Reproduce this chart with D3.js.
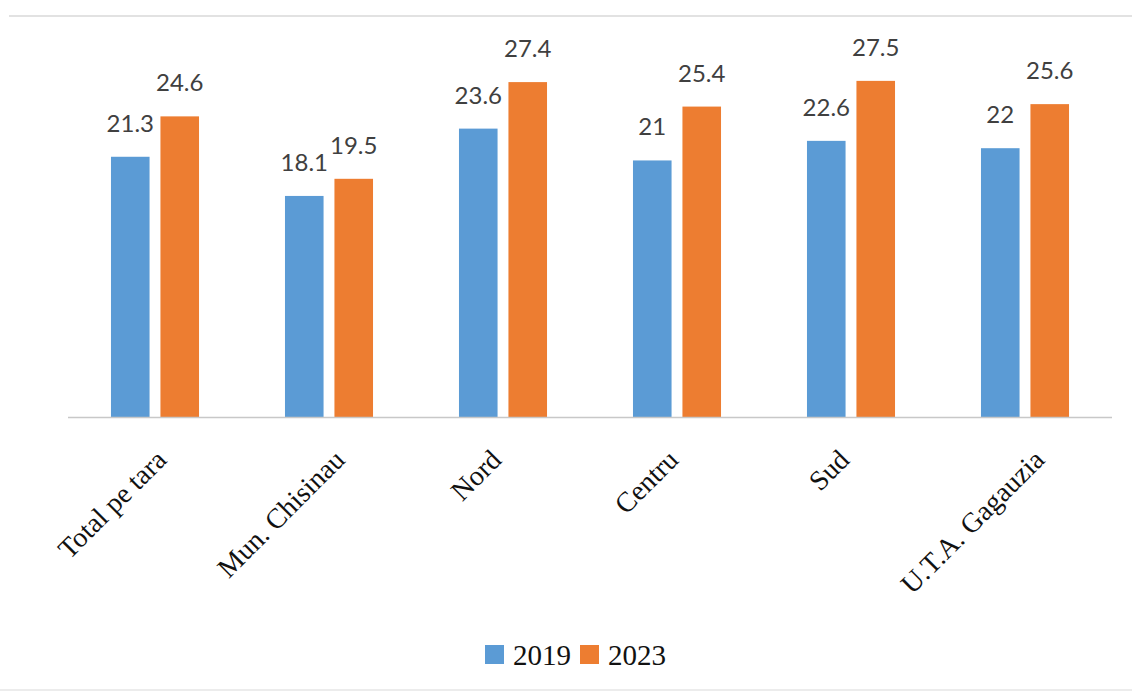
<!DOCTYPE html>
<html>
<head>
<meta charset="utf-8">
<script src="https://cdn.jsdelivr.net/npm/d3@7"></script>
<style>
  body { margin: 0; background: #fff; }
  svg { display: block; }
</style>
</head>
<body>
<div id="chart"></div>
<script>
// Data
const categories = ["Total pe tara", "Mun. Chisinau", "Nord", "Centru", "Sud", "U.T.A. Gagauzia"];
const seriesNames = ["2019", "2023"];
const values2019 = [21.3, 18.1, 23.6, 21, 22.6, 22];
const values2023 = [24.6, 19.5, 27.4, 25.4, 27.5, 25.6];
const seriesColors = ["#5B9BD5", "#ED7D31"];

const W = 1132, H = 693;
const baseY = 417.5;

const rows = categories.map((c, i) => ({
  category: c,
  values: [
    { series: "2019", value: values2019[i] },
    { series: "2023", value: values2023[i] }
  ]
}));

const svg = d3.select("#chart")
  .append("svg")
  .attr("width", W)
  .attr("height", H);

// Frame lines
svg.append("line")
  .attr("x1", 9).attr("x2", W)
  .attr("y1", 16).attr("y2", 16)
  .attr("stroke", "#d9d9d9").attr("stroke-width", 1.5);
svg.append("line")
  .attr("x1", 0).attr("x2", W)
  .attr("y1", 690).attr("y2", 690)
  .attr("stroke", "#e6e6e6").attr("stroke-width", 1.5);

// Scales
const x0 = d3.scaleBand()
  .domain(categories)
  .range([68, 1112])
  .paddingInner(0.494)
  .paddingOuter(0.247);

const x1 = d3.scaleBand()
  .domain(seriesNames)
  .range([0, x0.bandwidth()])
  .paddingInner(0.22);

const y = d3.scaleLinear()
  .domain([0, 32.8])
  .range([baseY, 16]);

const color = d3.scaleOrdinal().domain(seriesNames).range(seriesColors);

// Bars
const groups = svg.append("g")
  .selectAll("g")
  .data(rows)
  .join("g")
  .attr("transform", d => "translate(" + x0(d.category) + ",0)");

groups.selectAll("rect")
  .data(d => d.values)
  .join("rect")
  .attr("x", d => x1(d.series))
  .attr("y", d => y(d.value))
  .attr("width", x1.bandwidth())
  .attr("height", d => baseY - y(d.value))
  .attr("fill", d => color(d.series));

// Value labels
groups.selectAll("text")
  .data(d => d.values)
  .join("text")
  .attr("x", d => x1(d.series) + x1.bandwidth() / 2)
  .attr("y", d => y(d.value) - 25)
  .attr("text-anchor", "middle")
  .attr("font-family", "Lato, 'Open Sans', sans-serif")
  .attr("font-size", 24)
  .attr("fill", "#404040")
  .text(d => d.value);

// Category axis
const xAxis = d3.axisBottom(x0).tickSize(0);
const axisG = svg.append("g")
  .attr("transform", "translate(0," + baseY + ")")
  .call(xAxis);
axisG.select(".domain").remove();
axisG.selectAll("text")
  .attr("font-family", "'Liberation Serif', 'Times New Roman', serif")
  .attr("font-size", 28)
  .attr("fill", "#111")
  .attr("text-anchor", "end")
  .attr("x", 0)
  .attr("y", 0)
  .attr("dy", 0)
  .each(function () {
    const len = this.getComputedTextLength();
    const off = Math.max(0, 0.16 * (len - 58));
    d3.select(this).attr("transform", "translate(" + off + ",44) rotate(-45)");
  });

// Baseline
svg.append("line")
  .attr("x1", 68).attr("x2", 1112)
  .attr("y1", baseY).attr("y2", baseY)
  .attr("stroke", "#c8c8c8").attr("stroke-width", 1.5);

// Legend
const legend = svg.append("g")
  .attr("transform", "translate(485,645)");
const legendItem = legend.selectAll("g")
  .data(seriesNames)
  .join("g")
  .attr("transform", (d, i) => "translate(" + i * 95 + ",0)");
legendItem.append("rect")
  .attr("width", 19)
  .attr("height", 19)
  .attr("fill", d => color(d));
legendItem.append("text")
  .attr("x", 28)
  .attr("y", 20)
  .attr("font-family", "'Liberation Serif', 'Times New Roman', serif")
  .attr("font-size", 29)
  .attr("fill", "#111")
  .text(d => d);
</script>
</body>
</html>
